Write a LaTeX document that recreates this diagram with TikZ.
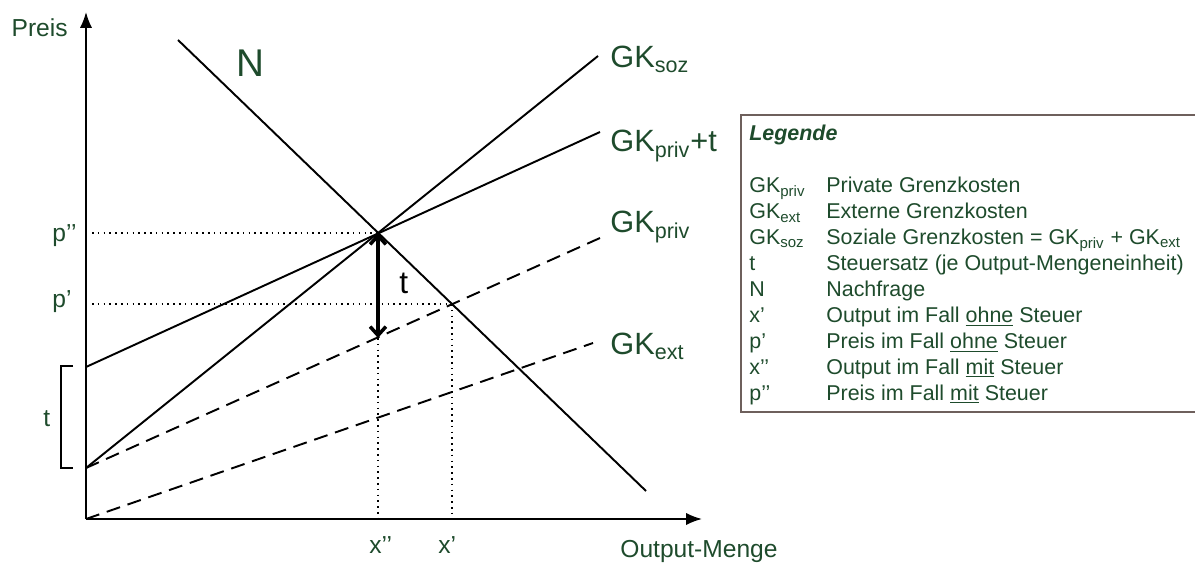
\documentclass[tikz,border=0pt]{standalone}
\usepackage{fontspec}
\setmainfont{Liberation Sans}
\usetikzlibrary{arrows.meta}
\definecolor{gruen}{HTML}{1E4B2C}
\definecolor{rahmen}{HTML}{6E605C}

\begin{document}
\begin{tikzpicture}[x=0.02cm, y=-0.02cm,
  ax/.style={line width=1.1pt, -{Latex[length=9pt,width=7pt]}},
  kurve/.style={line width=1.1pt},
  gestr/.style={line width=1.1pt, dash pattern=on 8pt off 4.5pt},
  punkt/.style={line width=1.1pt, dash pattern=on 0.9pt off 2.4pt},
  glab/.style={text=gruen, font=\fontsize{17.5}{19}\selectfont, anchor=base west, inner sep=0pt},
  alab/.style={text=gruen, font=\fontsize{14}{16}\selectfont, anchor=base west, inner sep=0pt},
  leg/.style={text=gruen, font=\fontsize{12.2}{14}\selectfont, anchor=base west, inner sep=0pt}]
  \useasboundingbox (0,0) rectangle (1195,563);

  \coordinate (O)     at (86,519);
  \coordinate (Y)     at (86,12);
  \coordinate (X)     at (702,519);
  \coordinate (A)     at (86,468);
  \coordinate (B)     at (86,367);
  \coordinate (E2)    at (378,233);
  \coordinate (E1)    at (452,304);
  \coordinate (T)     at (378,338);
  \coordinate (Nanf)  at (178,40);
  \coordinate (Nend)  at (646,491);
  \coordinate (Ssoz)  at (598,56);
  \coordinate (Spt)   at (600,132);
  \coordinate (Spriv) at (600,238);
  \coordinate (Sext)  at (593,343);
  \coordinate (P2)    at (92,233);
  \coordinate (P1)    at (92,304);
  \coordinate (X2)    at (378,519);
  \coordinate (X1)    at (452,519);

  \draw[punkt] (P2) -- (E2);
  \draw[punkt] (P1) -- (E1);
  \draw[punkt] (T) -- (X2);
  \draw[punkt] (E1) -- (X1);

  \draw[ax] (O) -- (Y);
  \draw[ax] (O) -- (X);

  \draw[kurve] (Nanf) -- (Nend);
  \draw[kurve] (A) -- (Ssoz);
  \draw[kurve] (B) -- (Spt);
  \draw[gestr] (A) -- (Spriv);
  \draw[gestr] (O) -- (Sext);
  \draw[line width=2pt, {Straight Barb[length=5pt,width=9pt]}-{Straight Barb[length=5pt,width=9pt]}] (E2) -- (T);

  \draw[line width=1pt] (73,366) -- (61,366) -- (61,468) -- (73,468);

  \node[alab, anchor=base east] (preis) at (68,37) {Preis};
  \node[alab] (menge) at (620,557) {Output-Menge};
  \node[alab] (pzwei) at (52,242) {p’’};
  \node[alab] (peins) at (52,308) {p’};
  \node[alab] (xzwei) at (369,553) {x’’};
  \node[alab] (xeins) at (438,553) {x’};
  \node[alab] (tklam) at (43,426) {t};
  \node[alab, font=\fontsize{22}{24}\selectfont] (nlab) at (236,77) {N};
  \node[alab, text=black, font=\fontsize{18}{20}\selectfont] (tpfeil) at (399,294) {t};

  \node[glab] (soz)  at (610,68)  {GK\textsubscript{soz}};
  \node[glab] (prt)  at (610,152) {GK\textsubscript{priv}+t};
  \node[glab] (priv) at (610,233) {GK\textsubscript{priv}};
  \node[glab] (ext)  at (610,355) {GK\textsubscript{ext}};

  \draw[rahmen, line width=0.9pt] (1195,115) -- (741,115) -- (741,412) -- (1195,412);
  \node[leg, font=\fontsize{12.2}{14}\selectfont\bfseries\itshape] (legende) at (749,141) {Legende};
  \node[leg] (k1) at (749,193)   {GK\textsubscript{priv}};
  \node[leg] (k2) at (749,218.9) {GK\textsubscript{ext}};
  \node[leg] (k3) at (749,244.7) {GK\textsubscript{soz}};
  \node[leg] (k4) at (749,270.6) {t};
  \node[leg] (k5) at (749,296.5) {N};
  \node[leg] (k6) at (749,322.4) {x’};
  \node[leg] (k7) at (749,348.2) {p’};
  \node[leg] (k8) at (749,374.1) {x’’};
  \node[leg] (k9) at (749,400)   {p’’};
  \node[leg] (e1) at (826,193)   {Private Grenzkosten};
  \node[leg] (e2) at (826,218.9) {Externe Grenzkosten};
  \node[leg] (e3) at (826,244.7) {Soziale Grenzkosten = GK\textsubscript{priv} + GK\textsubscript{ext}};
  \node[leg] (e4) at (826,270.6) {Steuersatz (je Output-Mengeneinheit)};
  \node[leg] (e5) at (826,296.5) {Nachfrage};
  \node[leg] (e6) at (826,322.4) {Output im Fall \underline{ohne} Steuer};
  \node[leg] (e7) at (826,348.2) {Preis im Fall \underline{ohne} Steuer};
  \node[leg] (e8) at (826,374.1) {Output im Fall \underline{mit} Steuer};
  \node[leg] (e9) at (826,400)   {Preis im Fall \underline{mit} Steuer};
\end{tikzpicture}
\end{document}
